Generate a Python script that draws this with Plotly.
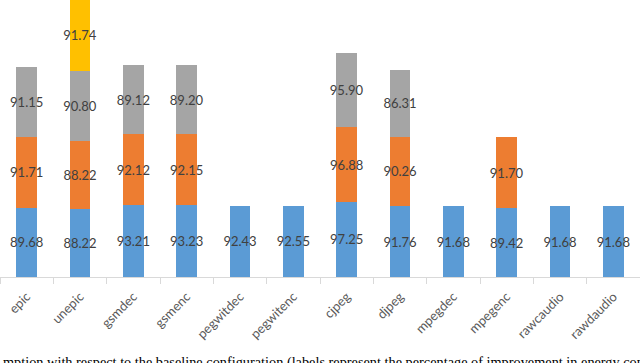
import plotly.graph_objects as go

benchmarks = ['epic', 'unepic', 'gsmdec', 'gsmenc', 'pegwitdec', 'pegwitenc',
              'cjpeg', 'djpeg', 'mpegdec', 'mpegenc', 'rawcaudio', 'rawdaudio']

level1 = [89.68, 88.22, 93.21, 93.23, 92.43, 92.55, 97.25, 91.76, 91.68, 89.42, 91.68, 91.68]
level2 = [91.71, 88.22, 92.12, 92.15, None, None, 96.88, 90.26, None, 91.70, None, None]
level3 = [91.15, 90.80, 89.12, 89.20, None, None, 95.90, 86.31, None, None, None, None]
level4 = [None, 91.74, None, None, None, None, None, None, None, None, None, None]

series = [level1, level2, level3, level4]
colors = ['#5B9BD5', '#ED7D31', '#A5A5A5', '#FFC000']

caption = ('mption with respect to the baseline configuration (labels represent '
           'the percentage of improvement in energy consumption)')

traces = []
for vals, col in zip(series, colors):
    traces.append(go.Bar(
        x=benchmarks, y=vals,
        marker=dict(color=col, line=dict(width=0)),
        text=[f'{v:.2f}' if v is not None else '' for v in vals],
        textposition='inside', insidetextanchor='middle',
        textangle=0, constraintext='none',
        textfont=dict(family='Lato', size=13, color='#404040'),
        showlegend=False,
    ))

fig = go.Figure(data=traces)
fig.update_layout(
    barmode='stack', bargap=0.61,
    width=640, height=363,
    margin=dict(l=0, r=0, t=0, b=86),
    paper_bgcolor='white', plot_bgcolor='white',
    xaxis=dict(showline=True, linecolor='#D9D9D9', linewidth=1, automargin=False,
               ticks='outside', tickson='boundaries', ticklen=6, tickcolor='#D9D9D9',
               tickangle=-45, ticklabelstandoff=6,
               tickfont=dict(family='Lato', size=13, color='#595959'),
               showgrid=False),
    yaxis=dict(range=[0, 359], visible=False, showgrid=False, automargin=False),
)
fig.add_annotation(text=caption, xref='paper', yref='paper', x=0.002, y=-0.272,
                   xanchor='left', yanchor='top', showarrow=False,
                   font=dict(family='Liberation Serif', size=14.3, color='#000000'))

# the page body has a default margin; drop it so the chart sits at 0,0
fig.write_html('out.html', config={'displayModeBar': False},
               post_script="document.body.style.margin='0';")
